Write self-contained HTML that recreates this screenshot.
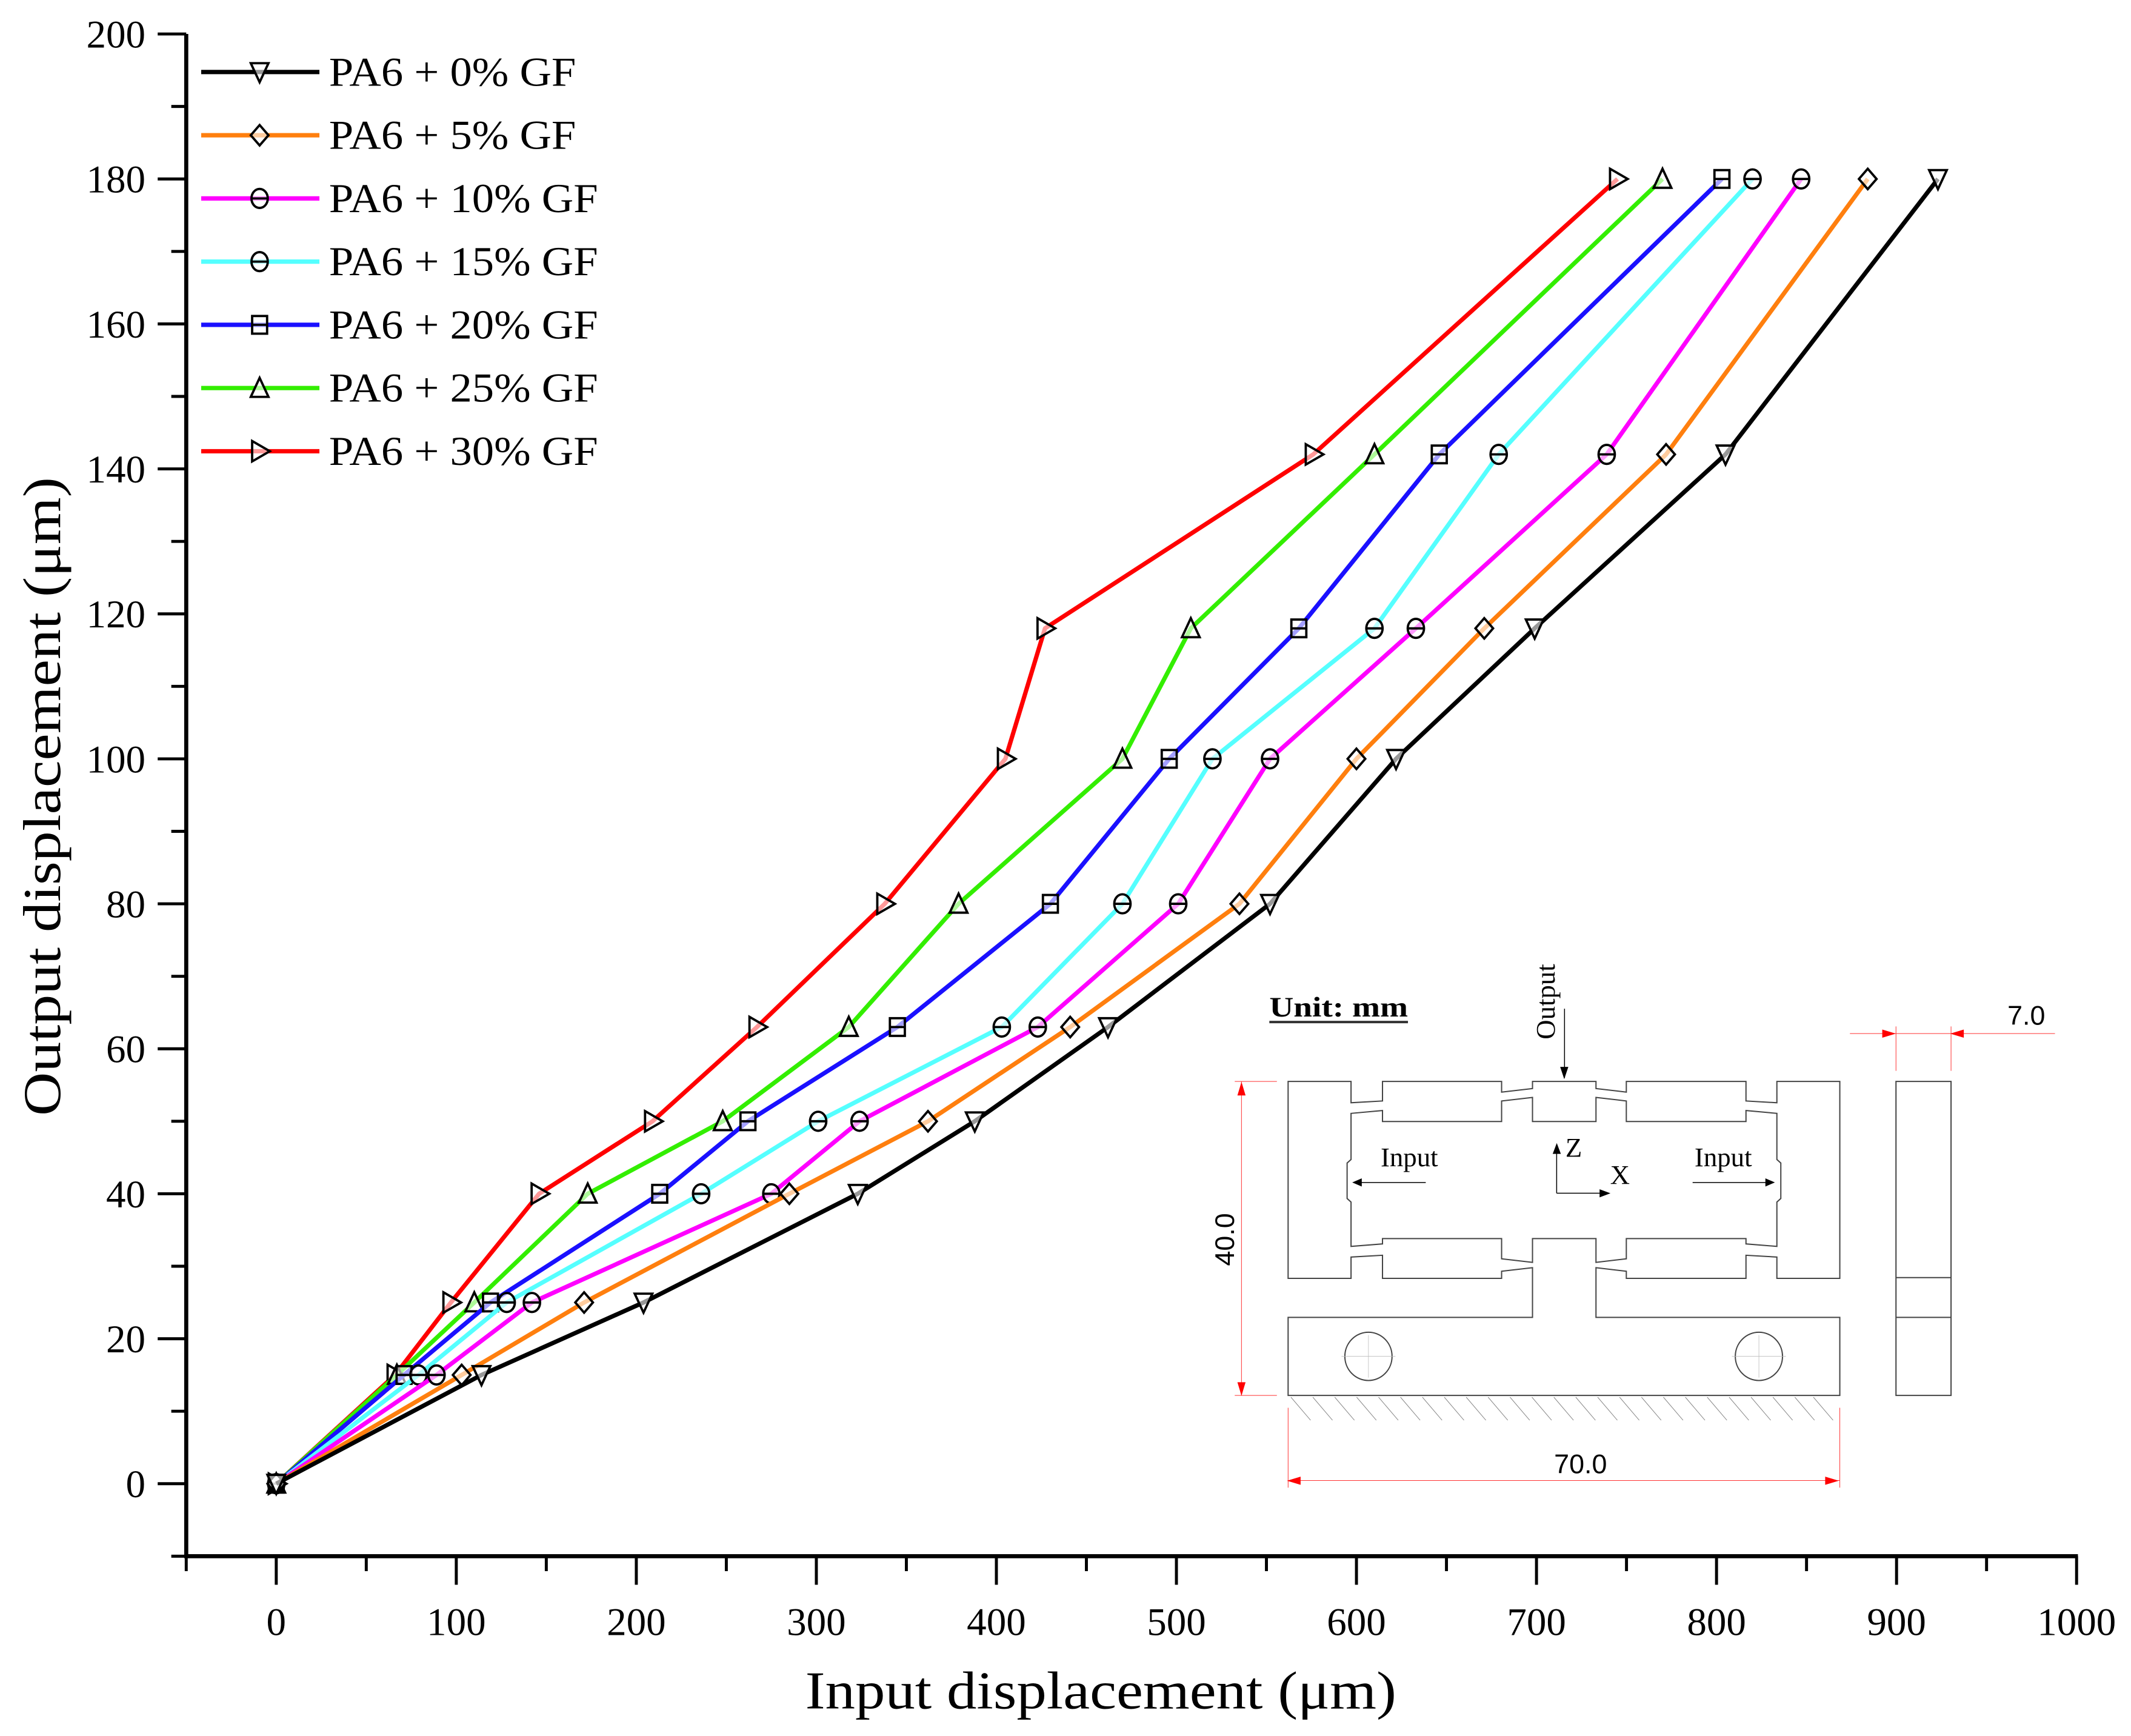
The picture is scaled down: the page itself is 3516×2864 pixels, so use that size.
<!DOCTYPE html>
<html><head><meta charset="utf-8"><style>
html,body{margin:0;padding:0;background:#fff;}
svg{display:block;}
text{font-family:"Liberation Serif",serif;fill:#000;}
</style></head><body>
<svg id="chart" width="3516" height="2864" viewBox="0 0 1568 1277.3" xmlns="http://www.w3.org/2000/svg">
<rect x="0" y="0" width="1568" height="1278" fill="#fff"/>
<g id="axes"></g>
<g id="series"></g>
<g id="legend"></g>
<text transform="translate(44,586) rotate(-90)" text-anchor="middle" font-size="39" textLength="470" lengthAdjust="spacingAndGlyphs">Output displacement (μm)</text>
<text x="810" y="1257" text-anchor="middle" font-size="39" textLength="435" lengthAdjust="spacingAndGlyphs">Input displacement (μm)</text>

<g>
 <g transform="translate(892,691.3) scale(0.4134,0.261)" fill="none" stroke="#444" stroke-width="2">
  <path vector-effect="non-scaling-stroke" d="M135,400 H247 V460 L303,455 V400 H515 V430 L570,420 V400 H683 V420 L737,430 V400 H950 V455 L1005,460 V400 H1117 V955 H1005 V895 L950,890 V955 H737 V935 L683,925 V1065 H1117 V1285 H135 V1065 H570 V925 L515,935 V955 H303 V890 L247,895 V955 H135 Z"/>
  <path vector-effect="non-scaling-stroke" d="M247,490 L303,482 V513 H515 V455 L570,445 V513 H683 V445 L737,455 V513 H950 V482 L1005,490 V620 L1012,630 V730 L1005,740 V865 L950,858 V843 H737 V900 L683,910 V843 H570 V910 L515,900 V843 H303 V858 L247,865 V740 L240,730 V630 L247,620 Z"/>
  <ellipse vector-effect="non-scaling-stroke" cx="278" cy="1175" rx="42" ry="68"/>
  <ellipse vector-effect="non-scaling-stroke" cx="973" cy="1175" rx="42" ry="68"/>
  <path vector-effect="non-scaling-stroke" stroke="#bbb" stroke-width="0.8" d="M230,1175 H326 M278,1115 V1235 M925,1175 H1021 M973,1115 V1235"/>
  <rect vector-effect="non-scaling-stroke" x="1217" y="400" width="98" height="885"/>
  <path vector-effect="non-scaling-stroke" d="M1217,953 H1315 M1217,1065 H1315"/>
  <path vector-effect="non-scaling-stroke" stroke="#888" stroke-width="1" d="M140,1290 l35,65 M179,1290 l35,65 M218,1290 l35,65 M257,1290 l35,65 M296,1290 l35,65 M335,1290 l35,65 M374,1290 l35,65 M413,1290 l35,65 M452,1290 l35,65 M491,1290 l35,65 M530,1290 l35,65 M569,1290 l35,65 M608,1290 l35,65 M647,1290 l35,65 M686,1290 l35,65 M725,1290 l35,65 M764,1290 l35,65 M803,1290 l35,65 M842,1290 l35,65 M881,1290 l35,65 M920,1290 l35,65 M959,1290 l35,65 M998,1290 l35,65 M1037,1290 l35,65 M1070,1290 l35,65"/>
  <path vector-effect="non-scaling-stroke" stroke="#f33" stroke-width="1" d="M52,400 V1285 M40,400 H115 M40,1285 H115 M135,1320 V1545 M1117,1320 V1545 M135,1525 H1117 M1135,265 H1500 M1217,245 V370 M1315,245 V370"/>
  <path vector-effect="non-scaling-stroke" stroke="#000" stroke-width="1.5" d="M627,195 V390 M380,685 H255 M855,685 H995 M613,715 V590 M613,715 H700"/>
 </g>
 <g fill="#f00">
  <polygon points="913.5,796 910.5,806 916.5,806"/><polygon points="913.5,1027 910.5,1017 916.5,1017"/>
  <polygon points="947,1089.5 957,1086.5 957,1092.5"/><polygon points="1353,1089.5 1343,1086.5 1343,1092.5"/>
  <polygon points="1395,760.5 1385,757.5 1385,763.5"/><polygon points="1435,760.5 1445,757.5 1445,763.5"/>
 </g>
 <g fill="#000">
  <polygon points="1151,794 1148,785 1154,785"/>
  <polygon points="995,870 1002,867 1002,873"/>
  <polygon points="1306,870 1299,867 1299,873"/>
  <polygon points="1145.5,841 1142.5,849 1148.5,849"/>
  <polygon points="1185,878 1177,875 1177,881"/>
 </g>
 <text x="985" y="748" text-anchor="middle" font-size="21" font-weight="bold" textLength="102" lengthAdjust="spacingAndGlyphs">Unit: mm</text>
 <line x1="934" y1="752" x2="1036" y2="752" stroke="#333" stroke-width="1.8"/>
 <text transform="translate(1144,737) rotate(-90)" text-anchor="middle" font-size="20">Output</text>
 <text x="1037" y="858" text-anchor="middle" font-size="20">Input</text>
 <text x="1268" y="858" text-anchor="middle" font-size="20">Input</text>
 <text x="1158" y="851" text-anchor="middle" font-size="20">Z</text>
 <text x="1192" y="871" text-anchor="middle" font-size="20">X</text>
 <text transform="translate(908,912) rotate(-90)" text-anchor="middle" font-size="20" style="font-family:'Liberation Sans',sans-serif">40.0</text>
 <text x="1163" y="1084" text-anchor="middle" font-size="20" style="font-family:'Liberation Sans',sans-serif">70.0</text>
 <text x="1491" y="754" text-anchor="middle" font-size="20" style="font-family:'Liberation Sans',sans-serif">7.0</text>
</g>
</svg>
<script>
const yLevels=[0,15,25,40,50,63,80,100,118,142,180];
const seriesNames=["PA6 + 0% GF","PA6 + 5% GF","PA6 + 10% GF","PA6 + 15% GF","PA6 + 20% GF","PA6 + 25% GF","PA6 + 30% GF"];
const seriesColors=["#000000","#ff7f0e","#ff00ff","#55ffff","#1a10ff","#33ee00","#ff0000"];
const seriesMarkers=["tri-down","diamond","circle-line","circle-line","square-line","tri-up","tri-right"];
const gf0=[0,114,204,323,388,462,552,622,699,805,923];
const gf5=[0,103,171,285,362,441,535,600,671,772,884];
const gf10=[0,89,142,275,324,423,501,552,633,739,847];
const gf15=[0,79,128,236,301,403,470,520,610,679,820];
const gf20=[0,71,119,213,262,345,430,496,568,646,803];
const gf25=[0,67,110,173,248,318,379,470,508,610,770];
const gf30=[0,66,97,146,209,267,338,405,427,576,745];
const xTicks=[0,100,200,300,400,500,600,700,800,900,1000];
const yTicks=[0,20,40,60,80,100,120,140,160,180,200];

const NS="http://www.w3.org/2000/svg";
const X0=137,X1=1528,XMIN=-50,XMAX=1000,YB=1145,YT=25,YMIN=-10,YMAX=200;
const sx=v=>X0+(v-XMIN)/(XMAX-XMIN)*(X1-X0);
const sy=v=>YB-(v-YMIN)/(YMAX-YMIN)*(YB-YT);
function mk(tag,attrs,parent){const e=document.createElementNS(NS,tag);for(const k in attrs)e.setAttribute(k,attrs[k]);parent.appendChild(e);return e;}

const axes=document.getElementById('axes');
const xl=mk('line',{x1:X0,y1:YB,x2:X1+1,y2:YB,stroke:'#000','stroke-width':3},axes);


const yl=mk('line',{x1:X0,y1:YB+1.5,x2:X0,y2:YT,stroke:'#000','stroke-width':3},axes);


for(let v=XMIN;v<=XMAX;v+=50){
  const major=v%100===0;
  mk('line',{x1:sx(v),y1:YB,x2:sx(v),y2:YB+(major?21:11),stroke:'#000','stroke-width':2.2},axes);
}
xTicks.forEach(v=>{
  const t=mk('text',{x:sx(v),y:YB+58,'text-anchor':'middle','font-size':29},axes);
  t.textContent=v;
  
  
});
for(let v=YMIN;v<=YMAX;v+=10){
  const major=v%20===0;
  mk('line',{x1:X0,y1:sy(v),x2:X0-(major?21:11),y2:sy(v),stroke:'#000','stroke-width':2.2},axes);
}
yTicks.forEach(v=>{
  const t=mk('text',{x:X0-30,y:sy(v)+10,'text-anchor':'end','font-size':29},axes);
  t.textContent=v;
  
  
});

function marker(type,cx,cy,parent){
  const a={fill:'#fff','fill-opacity':0.6,stroke:'#000','stroke-width':1.7};
  const w=6.5,h=7.5;let e;
  if(type==='tri-down'){e=mk('polygon',Object.assign({points:`${cx-w},${cy-h+1} ${cx+w},${cy-h+1} ${cx},${cy+h}`},a),parent);}
  else if(type==='tri-up'){e=mk('polygon',Object.assign({points:`${cx-w},${cy+h-1} ${cx+w},${cy+h-1} ${cx},${cy-h}`},a),parent);}
  else if(type==='tri-right'){e=mk('polygon',Object.assign({points:`${cx-w+1},${cy-h} ${cx-w+1},${cy+h} ${cx+w+1},${cy}`},a),parent);}
  else if(type==='diamond'){e=mk('polygon',Object.assign({points:`${cx},${cy-h} ${cx+w},${cy} ${cx},${cy+h} ${cx-w},${cy}`},a),parent);}
  else if(type==='circle-line'){e=mk('g',{},parent);mk('ellipse',Object.assign({cx:cx,cy:cy,rx:w-0.5,ry:h-0.5},a),e);mk('line',Object.assign({x1:cx-w+0.5,y1:cy,x2:cx+w-0.5,y2:cy},a),e);}
  else {e=mk('g',{},parent);mk('rect',Object.assign({x:cx-w+1,y:cy-h+1,width:2*w-2,height:2*h-2},a),e);mk('line',Object.assign({x1:cx-w+1,y1:cy,x2:cx+w-1,y2:cy},a),e);}
  return e;
}

const seriesData=[gf0,gf5,gf10,gf15,gf20,gf25,gf30];
const sg=document.getElementById('series');
const slugs=['gf0','gf5','gf10','gf15','gf20','gf25','gf30'];
for(let i=seriesData.length-1;i>=0;i--){
  const d=seriesData[i];
  const g=mk('g',{},sg);
  
  
  const pts=d.map((v,j)=>sx(v)+','+sy(yLevels[j])).join(' ');
  const pl=mk('polyline',{points:pts,fill:'none',stroke:seriesColors[i],'stroke-width':3.2,'stroke-linejoin':'round'},g);
  
  
  d.forEach((v,j)=>{
    const m=marker(seriesMarkers[i],sx(v),sy(yLevels[j]),g);
    
    
  });
}

const lg=document.getElementById('legend');
seriesNames.forEach((n,i)=>{
  const y=53+i*46.5;
  const g=mk('g',{},lg);
  
  
  mk('line',{x1:148,y1:y,x2:235,y2:y,stroke:seriesColors[i],'stroke-width':3.2},g);
  marker(seriesMarkers[i],191,y,g);
  const t=mk('text',{x:242,y:y+10,'font-size':30},g);
  t.textContent=n;
  const L=t.getComputedTextLength();
  t.setAttribute('textLength',L*1.08);
  t.setAttribute('lengthAdjust','spacingAndGlyphs');
});
</script>
</body></html>
